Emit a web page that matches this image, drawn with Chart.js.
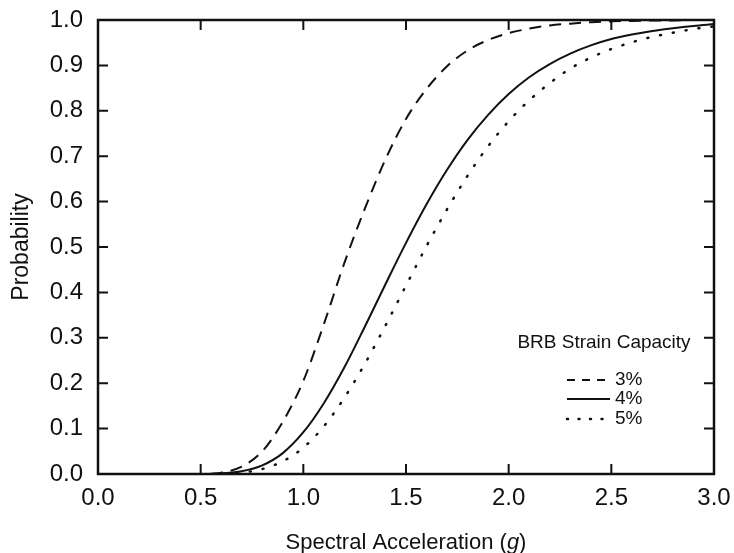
<!DOCTYPE html>
<html>
  <head>
    <script src="https://cdn.jsdelivr.net/npm/chart.js@4"></script>
    <style>
      body { margin: 0; background: #fff; }
      #wrap { width: 734px; height: 553px; }
    </style>
  </head>

  <body>
    <div id="wrap">
      <canvas id="canvas"></canvas>
    </div>
    <script>
      // spectral acceleration (g)
      const xValues = [0.55, 0.6, 0.7, 0.8, 0.9, 1.0, 1.1, 1.2, 1.3, 1.4, 1.5, 1.6, 1.7, 1.8, 1.9,
        2.0, 2.1, 2.2, 2.3, 2.4, 2.5, 2.6, 2.7, 2.8, 2.9, 3.0];

      // probability
      const strain3 = [0, 0.003, 0.016, 0.05, 0.115, 0.205, 0.33, 0.465, 0.585, 0.693, 0.782, 0.848,
        0.898, 0.933, 0.956, 0.971, 0.981, 0.988, 0.992, 0.995, 0.997, 0.998, 0.999, 0.999, 1.0, 1.0];
      const strain4 = [0, 0.001, 0.006, 0.019, 0.046, 0.092, 0.156, 0.235, 0.325, 0.418, 0.509, 0.594,
        0.67, 0.736, 0.791, 0.837, 0.874, 0.903, 0.926, 0.944, 0.958, 0.968, 0.976, 0.982, 0.987, 0.991];
      const strain5 = [0, 0.0005, 0.003, 0.011, 0.028, 0.058, 0.105, 0.168, 0.243, 0.327, 0.415, 0.502,
        0.583, 0.657, 0.722, 0.777, 0.823, 0.861, 0.893, 0.917, 0.936, 0.951, 0.963, 0.972, 0.98, 0.986];

      const seriesLabels = ['3%', '4%', '5%'];
      const legendTitle = 'BRB Strain Capacity';

      const ink = '#111';
      const font = 'Liberation Sans, Arial, Helvetica, sans-serif';

      const pts = (ys) => xValues.map((x, i) => ({ x: x, y: ys[i] }));

      // frame with inward ticks, the legend box and the x title
      const decor = {
        id: 'decor',
        afterDraw(chart) {
          const { ctx, chartArea: a, scales } = chart;
          const x = scales.x, y = scales.y;
          ctx.save();
          ctx.strokeStyle = ink;
          ctx.lineCap = 'butt';
          ctx.setLineDash([]);

          ctx.lineWidth = 2;
          const tl = 10;
          x.ticks.forEach((t) => {
            const px = x.getPixelForValue(t.value);
            ctx.beginPath();
            ctx.moveTo(px, a.bottom); ctx.lineTo(px, a.bottom - tl);
            ctx.moveTo(px, a.top); ctx.lineTo(px, a.top + tl);
            ctx.stroke();
          });
          y.ticks.forEach((t) => {
            const py = y.getPixelForValue(t.value);
            ctx.beginPath();
            ctx.moveTo(a.left, py); ctx.lineTo(a.left + tl, py);
            ctx.moveTo(a.right, py); ctx.lineTo(a.right - tl, py);
            ctx.stroke();
          });

          ctx.lineWidth = 2.5;
          ctx.strokeRect(a.left, a.top, a.right - a.left, a.bottom - a.top);

          // legend (sample dashes are a bit shorter than on the curves)
          const legendDash = [[8, 7], [], [1, 10.5]];
          ctx.fillStyle = ink;
          ctx.font = '19px ' + font;
          ctx.textBaseline = 'middle';
          ctx.textAlign = 'center';
          ctx.fillText(legendTitle, 604, 343);
          ctx.textAlign = 'left';
          const rows = [380, 399, 419];
          chart.data.datasets.forEach((ds, i) => {
            ctx.beginPath();
            ctx.lineWidth = ds.borderWidth;
            ctx.lineCap = ds.borderCapStyle || 'butt';
            ctx.setLineDash(legendDash[i]);
            ctx.moveTo(567, rows[i]);
            ctx.lineTo(610, rows[i]);
            ctx.stroke();
            ctx.fillText(ds.label, 615, rows[i]);
          });
          ctx.setLineDash([]);

          // x title with italic g
          const parts = [
            ['Spectral Acceleration (', '22px ' + font],
            ['g', 'italic 22px ' + font],
            [')', '22px ' + font],
          ];
          let w = 0;
          parts.forEach((p) => { ctx.font = p[1]; w += ctx.measureText(p[0]).width; });
          let cx = (a.left + a.right) / 2 - w / 2;
          ctx.textBaseline = 'alphabetic';
          parts.forEach((p) => {
            ctx.font = p[1];
            ctx.fillText(p[0], cx, 549);
            cx += ctx.measureText(p[0]).width;
          });
          ctx.restore();
        },
      };

      new Chart(document.getElementById('canvas'), {
        type: 'line',
        data: {
          datasets: [
            {
              label: seriesLabels[0],
              data: pts(strain3),
              borderColor: ink,
              borderWidth: 2,
              borderDash: [12, 8],
              pointRadius: 0,
              cubicInterpolationMode: 'monotone',
            },
            {
              label: seriesLabels[1],
              data: pts(strain4),
              borderColor: ink,
              borderWidth: 2,
              pointRadius: 0,
              cubicInterpolationMode: 'monotone',
            },
            {
              label: seriesLabels[2],
              data: pts(strain5),
              borderColor: ink,
              borderWidth: 2.5,
              borderDash: [1, 12],
              borderCapStyle: 'round',
              pointRadius: 0,
              cubicInterpolationMode: 'monotone',
            },
          ],
        },
        options: {
          responsive: true,
          maintainAspectRatio: false,
          animation: false,
          layout: { padding: { top: 20, right: 20, left: 0, bottom: 0 } },
          plugins: {
            legend: { display: false },
            tooltip: { enabled: false },
          },
          scales: {
            x: {
              type: 'linear',
              min: 0,
              max: 3,
              grid: { display: false },
              border: { display: false },
              ticks: {
                stepSize: 0.5,
                padding: 2,
                color: ink,
                font: { family: font, size: 24 },
                maxRotation: 0,
                callback: (v) => v.toFixed(1),
              },
              afterFit: (s) => {
                s.height = 79;
                s.paddingLeft = 0;
                s.paddingRight = 0;
              },
            },
            y: {
              min: 0,
              max: 1,
              grid: { display: false },
              border: { display: false },
              ticks: {
                stepSize: 0.1,
                padding: 7,
                color: ink,
                font: { family: font, size: 24 },
                callback: (v) => v.toFixed(1),
              },
              title: {
                display: true,
                text: 'Probability',
                color: ink,
                font: { family: font, size: 23 },
                padding: { top: 8, bottom: 0 },
              },
              afterFit: (s) => {
                s.width = 98;
                s.paddingTop = 0;
                s.paddingBottom = 0;
              },
            },
          },
        },
        plugins: [decor],
      });
    </script>
  </body>
</html>
